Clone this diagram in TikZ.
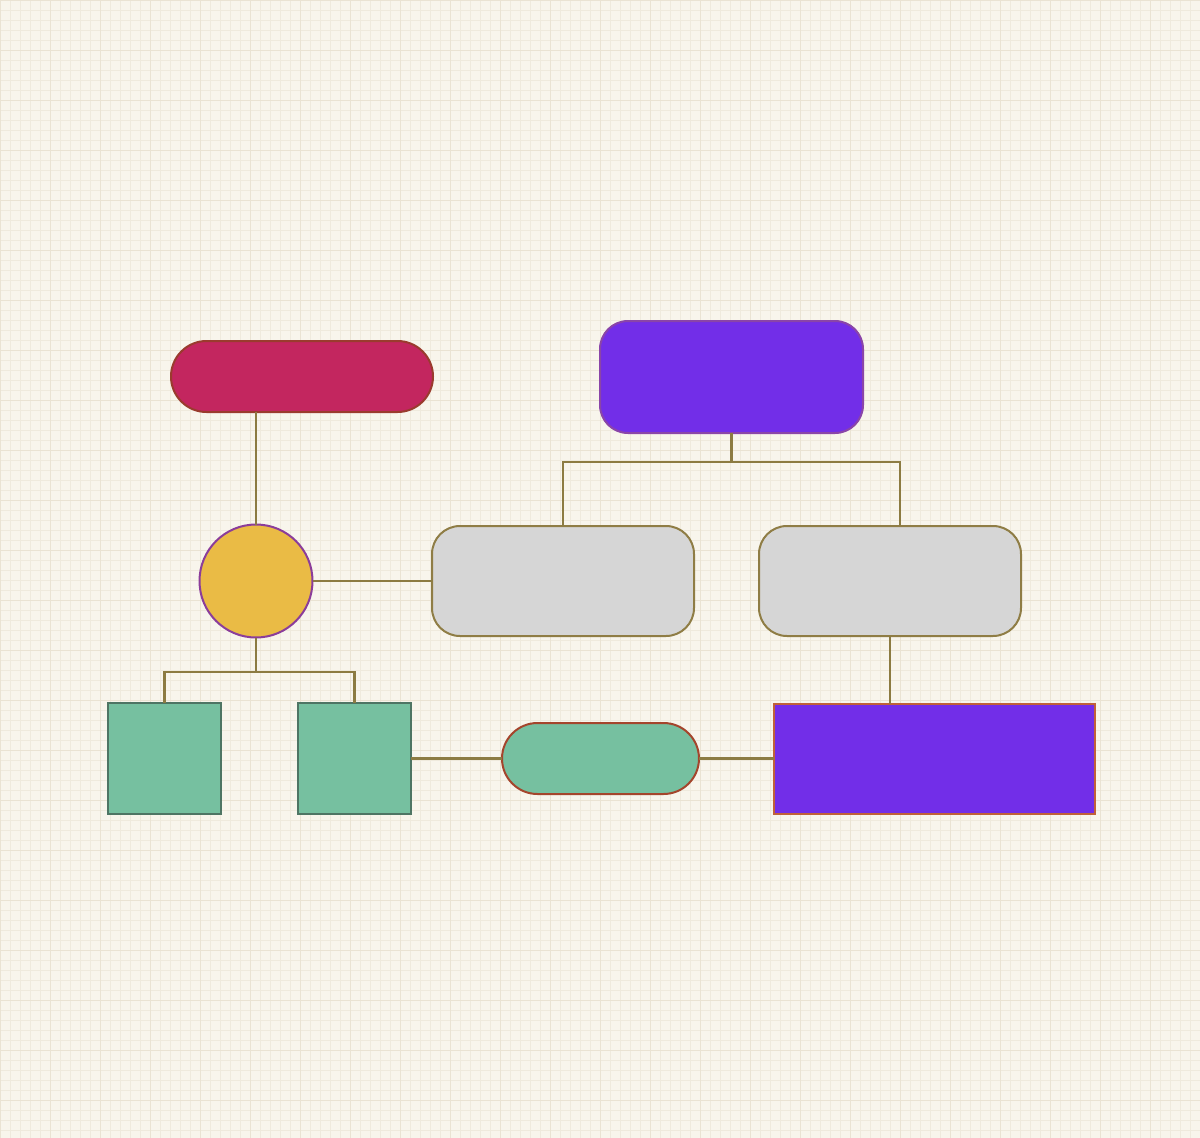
\documentclass[tikz,border=0pt]{standalone}
\usetikzlibrary{calc}
\definecolor{bgc}{HTML}{F8F5EC}
\definecolor{gridminor}{HTML}{EFEADD}
\definecolor{gridmajor}{HTML}{EAE3D3}
\definecolor{redfill}{HTML}{C3265F}
\definecolor{redline}{HTML}{9A3B2E}
\definecolor{purfill}{HTML}{722EE8}
\definecolor{purline}{HTML}{8A45A8}
\definecolor{rectline}{HTML}{C0603A}
\definecolor{yelfill}{HTML}{EABB45}
\definecolor{yelline}{HTML}{8B3D9A}
\definecolor{grayfill}{HTML}{D6D6D6}
\definecolor{grayline}{HTML}{8F7D45}
\definecolor{grnfill}{HTML}{76C0A0}
\definecolor{grnline}{HTML}{4E7564}
\definecolor{pillline}{HTML}{A4452C}
\definecolor{conn}{HTML}{8C7B42}
\begin{document}
\begin{tikzpicture}[x=1pt,y=-1pt,
  box/.style={inner sep=0pt,outer sep=0pt,line width=2pt},
  redpill/.style={box,draw=redline,fill=redfill,rectangle,rounded corners=35.5pt,minimum width=262pt,minimum height=71pt},
  topbox/.style={box,draw=purline,fill=purfill,rectangle,rounded corners=28pt,minimum width=263pt,minimum height=112pt},
  yelcirc/.style={box,draw=yelline,fill=yelfill,circle,minimum size=113pt},
  graybox/.style={box,draw=grayline,fill=grayfill,rectangle,rounded corners=28pt,minimum width=262pt,minimum height=110pt},
  grnsq/.style={box,draw=grnline,fill=grnfill,rectangle,minimum width=113pt,minimum height=111pt},
  grnpill/.style={box,draw=pillline,fill=grnfill,rectangle,rounded corners=35.5pt,minimum width=197pt,minimum height=71pt},
  purrect/.style={box,draw=rectline,fill=purfill,rectangle,minimum width=321pt,minimum height=110pt},
  connector/.style={draw=conn,line width=2.5pt}]
\fill[bgc] (0,0) rectangle (1200,1138);
\useasboundingbox (0,0) rectangle (1200,1138);
\foreach \i in {0,...,120} {\draw[gridminor,line width=0.8pt] (\i*10,0) -- (\i*10,1138);}
\foreach \j in {0,...,113} {\draw[gridminor,line width=0.8pt] (0,\j*10) -- (1200,\j*10);}
\foreach \i in {0,...,24} {\draw[gridmajor,line width=1pt] (\i*50,0) -- (\i*50,1138);}
\foreach \j in {0,...,22} {\draw[gridmajor,line width=1pt] (0,\j*50) -- (1200,\j*50);}

\node[redpill] (red) at (302,376.5) {};
\node[topbox] (ptop) at (731.5,377) {};
\node[yelcirc] (circ) at (256,581) {};
\node[graybox] (g1) at (563,581) {};
\node[graybox] (g2) at (890,581) {};
\node[grnsq] (s1) at (164.5,758.5) {};
\node[grnsq] (s2) at (354.5,758.5) {};
\node[grnpill] (gp) at (600.5,758.5) {};
\node[purrect] (pr) at (934.5,758.5) {};

\coordinate (jL) at (256,672);
\coordinate (jT) at (731.5,462);
\coordinate (g2top) at (900,526);

\draw[connector] (circ.north) -- (circ.north |- red.south);
\draw[connector] (circ.east) -- (g1.west);
\draw[connector] (circ.south) -- (jL);
\draw[connector] (s1.north) |- (s2.north |- jL) -- (s2.north);
\draw[connector] (ptop.south) -- (jT);
\draw[connector] (g1.north) |- (g2top |- jT) -- (g2top);
\draw[connector] (g2.south) -- (g2.south |- pr.north);
\draw[connector] (s2.east) -- (gp.west);
\draw[connector] (gp.east) -- (pr.west);
\end{tikzpicture}
\end{document}
